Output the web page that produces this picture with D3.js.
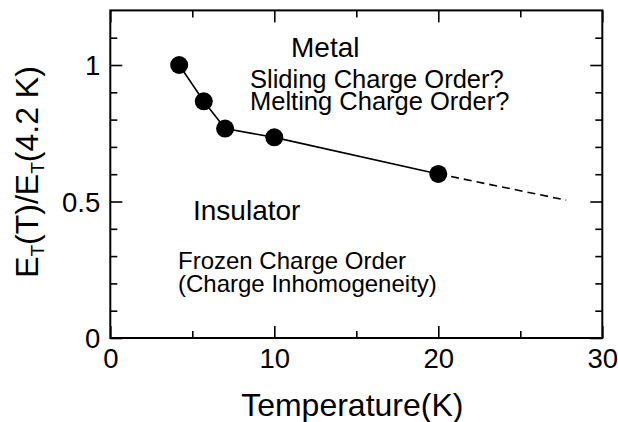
<!DOCTYPE html>
<html>
<head>
<meta charset="utf-8">
<script src="https://cdn.jsdelivr.net/npm/d3@7"></script>
<style>
  html, body { margin: 0; padding: 0; background: #fff; }
  svg { display: block; }
  text { font-family: "Liberation Sans", Arial, Helvetica, sans-serif; fill: #000; }
</style>
</head>
<body>
<svg id="chart" width="618" height="422"></svg>
<script>
// Threshold field ratio vs temperature
const temperature = [4.2, 5.7, 7.0, 10.0, 20.0];
const ratio = [1.0, 0.867, 0.767, 0.735, 0.601];
// extrapolated trend beyond the last measurement
const trendT = [20.0, 27.8];
const trendRatio = [0.601, 0.505];

const xMajorTicks = [0, 10, 20, 30];
const xMinorTicks = [5, 15, 25];
const yMajorTicks = [0, 0.5, 1];
const yMinorTicks = [0.1, 0.2, 0.3, 0.4, 0.6, 0.7, 0.8, 0.9, 1.1];

const svg = d3.select("#chart");
const margin = { left: 110.3, right: 15.7, top: 10.4, bottom: 84 };
const W = 618, H = 422;

const x = d3.scaleLinear().domain([0, 30]).range([margin.left, W - margin.right]);
const y = d3.scaleLinear().domain([0, 1.2]).range([H - margin.bottom, margin.top]);

const x0 = x(0), x1 = x(30), y0 = y(0), y1 = y(1.2);

// axes with inward ticks on all four sides
function styleAxis(g) {
  g.select(".domain").remove();
  g.selectAll(".tick line").attr("stroke", "#000").attr("stroke-width", 1.6);
}
const fmt = d => d3.format("")(d);

svg.append("g").attr("transform", `translate(0,${y0})`)
  .call(d3.axisBottom(x).tickValues(xMajorTicks).tickSize(-12).tickPadding(0).tickFormat(fmt))
  .call(styleAxis)
  .call(g => g.selectAll(".tick text").attr("font-size", 27.5).attr("dy", null)
    .attr("y", 30).attr("dominant-baseline", "auto"));
svg.append("g").attr("transform", `translate(0,${y0})`)
  .call(d3.axisBottom(x).tickValues(xMinorTicks).tickSize(-7).tickFormat(""))
  .call(styleAxis);
svg.append("g").attr("transform", `translate(0,${y1})`)
  .call(d3.axisTop(x).tickValues(xMajorTicks).tickSize(-12).tickFormat(""))
  .call(styleAxis);
svg.append("g").attr("transform", `translate(0,${y1})`)
  .call(d3.axisTop(x).tickValues(xMinorTicks).tickSize(-7).tickFormat(""))
  .call(styleAxis);

svg.append("g").attr("transform", `translate(${x0},0)`)
  .call(d3.axisLeft(y).tickValues(yMajorTicks).tickSize(-12).tickPadding(0).tickFormat(fmt))
  .call(styleAxis)
  .call(g => g.selectAll(".tick text").attr("font-size", 27.5).attr("x", -10)
    .attr("dy", "0.36em"));
svg.append("g").attr("transform", `translate(${x0},0)`)
  .call(d3.axisLeft(y).tickValues(yMinorTicks).tickSize(-7).tickFormat(""))
  .call(styleAxis);
svg.append("g").attr("transform", `translate(${x1},0)`)
  .call(d3.axisRight(y).tickValues(yMajorTicks).tickSize(-12).tickFormat(""))
  .call(styleAxis);
svg.append("g").attr("transform", `translate(${x1},0)`)
  .call(d3.axisRight(y).tickValues(yMinorTicks).tickSize(-7).tickFormat(""))
  .call(styleAxis);

// frame
svg.append("rect")
  .attr("x", x0).attr("y", y1).attr("width", x1 - x0).attr("height", y0 - y1)
  .attr("fill", "none").attr("stroke", "#000").attr("stroke-width", 2);

// data line
const line = d3.line().x(d => x(d[0])).y(d => y(d[1]));
svg.append("path")
  .datum(d3.zip(temperature, ratio))
  .attr("d", line).attr("fill", "none").attr("stroke", "#000").attr("stroke-width", 1.6);

svg.append("path")
  .datum(d3.zip(trendT, trendRatio))
  .attr("d", line).attr("fill", "none").attr("stroke", "#000").attr("stroke-width", 1.6)
  .attr("stroke-dasharray", "8,5");

svg.append("g").selectAll("circle")
  .data(d3.zip(temperature, ratio))
  .join("circle")
  .attr("cx", d => x(d[0])).attr("cy", d => y(d[1])).attr("r", 9).attr("fill", "#000");

// annotations
const notes = [
  { t: "Metal", x: 291, y: 57, size: 28 },
  { t: "Sliding Charge Order?", x: 250, y: 88, size: 25.5 },
  { t: "Melting Charge Order?", x: 250, y: 110, size: 25.5 },
  { t: "Insulator", x: 193, y: 220, size: 28 },
  { t: "Frozen Charge Order", x: 178, y: 269, size: 24 },
  { t: "(Charge Inhomogeneity)", x: 178, y: 292, size: 24 }
];
svg.append("g").selectAll("text")
  .data(notes).join("text")
  .attr("x", d => d.x).attr("y", d => d.y).attr("font-size", d => d.size)
  .text(d => d.t);

// axis titles
svg.append("text")
  .attr("x", (x0 + x1) / 2 - 4).attr("y", 416)
  .attr("text-anchor", "middle").attr("font-size", 32)
  .text("Temperature(K)");

const yt = svg.append("text")
  .attr("transform", `translate(38,${172}) rotate(-90)`)
  .attr("text-anchor", "middle").attr("font-size", 32);
yt.append("tspan").text("E");
yt.append("tspan").attr("font-size", 19).attr("dy", 6).text("T");
yt.append("tspan").attr("dy", -6).text("(T)/E");
yt.append("tspan").attr("font-size", 19).attr("dy", 6).text("T");
yt.append("tspan").attr("dy", -6).text("(4.2 K)");
</script>
</body>
</html>
